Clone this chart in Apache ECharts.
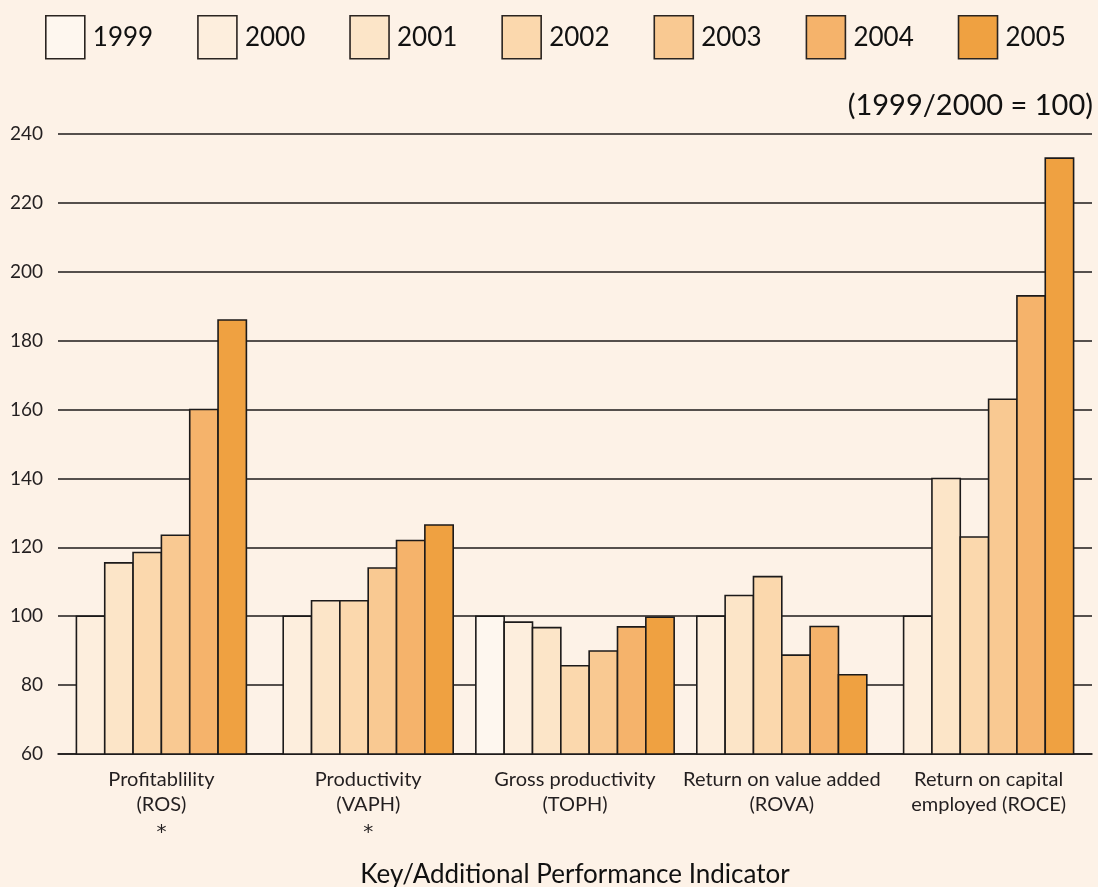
<!DOCTYPE html>
<html>
<head>
<meta charset="utf-8">
<script src="https://cdn.jsdelivr.net/npm/echarts@6/dist/echarts.min.js"></script>
<style>
  html, body { margin: 0; padding: 0; background: #fdf2e7; }
  #chart { width: 1098px; height: 887px; }
</style>
</head>
<body>
<div id="chart"></div>
<script>
// indicators on the x axis
var categories = [
  'Profitablility\n(ROS)\n*',
  'Productivity\n(VAPH)\n*',
  'Gross productivity\n(TOPH)',
  'Return on value added\n(ROVA)',
  'Return on capital\nemployed (ROCE)'
]
var years = ['1999', '2000', '2001', '2002', '2003', '2004', '2005']
var colors = ['#fef7ef', '#fdeedd', '#fce5c8', '#fbd8ad', '#f9c992', '#f5b36b', '#efa141']

// index values per year (null = no bar)
var v1999 = [null, null, 100, null, null]
var v2000 = [100, 100, 98.3, 100, 100]
var v2001 = [115.5, 104.5, 96.7, 106, 140]
var v2002 = [118.5, 104.5, 85.6, 111.5, 123]
var v2003 = [123.5, 114, 89.9, 88.7, 163]
var v2004 = [160, 122, 96.9, 97, 193]
var v2005 = [186, 126.5, 99.7, 83, 233]
var values = [v1999, v2000, v2001, v2002, v2003, v2004, v2005]

var yTicks = { min: 60, max: 240, interval: 20 }

// which years have a bar in each group, so the group stays centred
var present = categories.map(function (c, ci) {
  var list = []
  for (var y = 0; y < values.length; y++) {
    if (values[y][ci] != null) list.push(y)
  }
  return list
})

function makeRender(yi) {
  return function (params, api) {
    var ci = api.value(0)
    var list = present[ci]
    var pos = list.indexOf(yi)
    var bandW = api.size([1, 0])[0]
    var barW = bandW * 0.137
    var center = api.coord([ci, yTicks.min])
    var top = api.coord([ci, api.value(1)])
    var x = center[0] - list.length * barW / 2 + pos * barW
    return {
      type: 'rect',
      shape: { x: x, y: top[1], width: barW, height: center[1] - top[1] },
      style: { fill: api.visual('color'), stroke: '#1c1a1a', lineWidth: 1.6 }
    }
  }
}

var series = years.map(function (yr, yi) {
  var data = []
  values[yi].forEach(function (v, ci) {
    if (v != null) data.push([ci, v])
  })
  return {
    name: yr,
    type: 'custom',
    renderItem: makeRender(yi),
    itemStyle: { color: colors[yi] },
    encode: { x: 0, y: 1 },
    data: data
  }
})

var chart = echarts.init(document.getElementById('chart'))
chart.setOption({
  backgroundColor: '#fdf2e7',
  animation: false,
  legend: {
    left: 45,
    top: 15,
    width: 1060,
    padding: 0,
    icon: 'rect',
    itemWidth: 39,
    itemHeight: 43,
    itemGap: 44,
    itemStyle: { borderColor: '#2a2420', borderWidth: 1.6 },
    textStyle: { fontFamily: 'Lato', fontSize: 26, color: '#111', padding: [0, 0, 0, 3] },
    data: years
  },
  graphic: [{
    type: 'text',
    right: 5,
    top: 91,
    style: { text: '(1999/2000 = 100)', font: '29px Lato', fill: '#111' }
  }],
  grid: { left: 58, right: 6, top: 134, bottom: 133, outerBoundsMode: 'none', containLabel: false },
  xAxis: {
    type: 'category',
    data: categories,
    name: 'Key/Additional Performance Indicator',
    nameLocation: 'middle',
    nameGap: 108,
    nameTextStyle: { fontFamily: 'Lato', fontSize: 26, color: '#111' },
    axisLine: { show: true, lineStyle: { color: '#1c1a1a', width: 1.6 } },
    axisTick: { show: false },
    axisLabel: {
      fontFamily: 'Lato',
      fontSize: 20,
      lineHeight: 25,
      color: '#231f20',
      margin: 13,
      interval: 0,
      formatter: function (v) {
        return v.split('\n').map(function (line) {
          return line === '*' ? '{star|*}' : line
        }).join('\n')
      },
      rich: {
        star: { fontFamily: 'DejaVu Sans', fontSize: 20, lineHeight: 25, color: '#231f20', padding: [6, 0, 0, 0] }
      }
    }
  },
  yAxis: {
    type: 'value',
    min: yTicks.min,
    max: yTicks.max,
    interval: yTicks.interval,
    axisLine: { show: false },
    axisTick: { show: false },
    axisLabel: { fontFamily: 'Lato', fontSize: 19, color: '#231f20', margin: 15 },
    splitLine: { lineStyle: { color: '#1c1a1a', width: 1.6 } }
  },
  series: series
})
</script>
</body>
</html>
